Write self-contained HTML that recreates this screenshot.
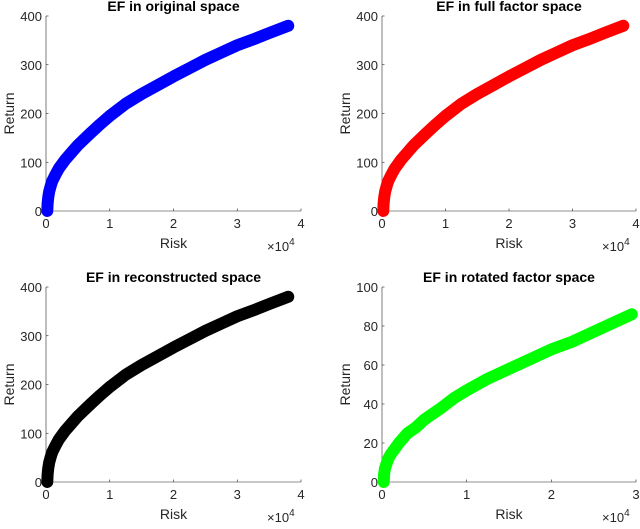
<!DOCTYPE html>
<html><head><meta charset="utf-8"><style>
body{margin:0;background:#fff;width:640px;height:524px;overflow:hidden}
svg text{font-family:"Liberation Sans",sans-serif;fill:#262626}
</style></head><body>
<svg id="fig" width="640" height="524"></svg>
<script>
const riskA=[0.02,0.025,0.035,0.05,0.075,0.1,0.15,0.2,0.3,0.4,0.5,0.7,0.85,1,1.25,1.5,1.75,2,2.25,2.5,2.75,3,3.25,3.5,3.8];
const retBlue=[0,15,28,40,52,62,75,87,105,120,135,160,178,195,220,240,258,276,293,310,325,340,352,365,380];
const retRed=[0,15,28,40,52,62,75,87,105,120,135,160,178,195,220,240,258,276,293,310,325,340,352,365,380];
const retBlack=[0,15,28,40,52,62,75,87,105,120,135,160,178,195,220,240,258,276,293,310,325,340,352,365,380];
const riskG=[0.02,0.025,0.035,0.05,0.075,0.1,0.15,0.2,0.3,0.4,0.5,0.7,0.85,1,1.25,1.5,1.75,2,2.25,2.5,2.75,2.95];
const retGreen=[0,4,7,9,12,14,17,20,25,28,32,38,43,47,53,58,63,68,72,77,82,86];
const ticksTopY=[0,100,200,300,400];
const ticksGreenY=[0,20,40,60,80,100];
const ticks4X=[0,1,2,3,4];
const ticks3X=[0,1,2,3];
const NS="http://www.w3.org/2000/svg";
const svg=document.getElementById('fig');
function mk(tag,attrs,parent){const e=document.createElementNS(NS,tag);for(const k in attrs)e.setAttribute(k,attrs[k]);(parent||svg).appendChild(e);return e;}
function panel(name,x0,y0,w,h,xmax,ymax,xt,yt,xs,ys,color,title){
  const g=mk('g',{});
  
  
  const sx=v=>x0+v/xmax*w, sy=v=>y0+h-v/ymax*h;
  const ax=mk('path',{d:`M${x0},${y0}V${y0+h}H${x0+w}`,stroke:'#262626','stroke-width':0.6,fill:'none'},g);
  
  
  xt.forEach(t=>{
    mk('line',{x1:sx(t),x2:sx(t),y1:y0+h,y2:y0+h-2.5,stroke:'#262626','stroke-width':0.6},g);
    const tx=mk('text',{x:sx(t),y:y0+h+17,'text-anchor':'middle','font-size':13},g);tx.textContent=t;
    
    
  });
  yt.forEach(t=>{
    mk('line',{x1:x0,x2:x0+2.5,y1:sy(t),y2:sy(t),stroke:'#262626','stroke-width':0.6},g);
    const tx=mk('text',{x:x0-4,y:sy(t)+5,'text-anchor':'end','font-size':13},g);tx.textContent=t;
    
    
  });
  const pts=xs.map((v,i)=>sx(v*1)+','+sy(ys[i])).join(' ');
  const pl=mk('polyline',{points:pts,stroke:color,'stroke-width':12,fill:'none','stroke-linecap':'round','stroke-linejoin':'round'},g);
  
  
  const ti=mk('text',{x:x0+w/2,y:y0-5,'text-anchor':'middle','font-size':14,'font-weight':'bold'},g);ti.textContent=title;
  ti.style.fill='#000';
  
  
  const xl=mk('text',{x:x0+w/2,y:y0+h+37,'text-anchor':'middle','font-size':14},g);xl.textContent='Risk';
  
  
  const yl=mk('text',{x:0,y:0,'text-anchor':'middle','font-size':14,transform:`translate(${x0-32},${y0+h/2}) rotate(-90)`},g);yl.textContent='Return';
  
  
  const ex=mk('text',{x:x0+w-34,y:y0+h+40,'font-size':13},g);
  
  
  ex.innerHTML='×10<tspan dy="-6" font-size="10">4</tspan>';
}
panel('plot-original-space',46,16,255,195,4,400,ticks4X,ticksTopY,riskA,retBlue,'#0000ff','EF in original space');
panel('plot-full-factor-space',382,16,254,195,4,400,ticks4X,ticksTopY,riskA,retRed,'#ff0000','EF in full factor space');
panel('plot-reconstructed-space',46,287,255,195,4,400,ticks4X,ticksTopY,riskA,retBlack,'#000000','EF in reconstructed space');
panel('plot-rotated-factor-space',382,287,254,195,3,100,ticks3X,ticksGreenY,riskG,retGreen,'#00ff00','EF in rotated factor space');
</script>
</body></html>
